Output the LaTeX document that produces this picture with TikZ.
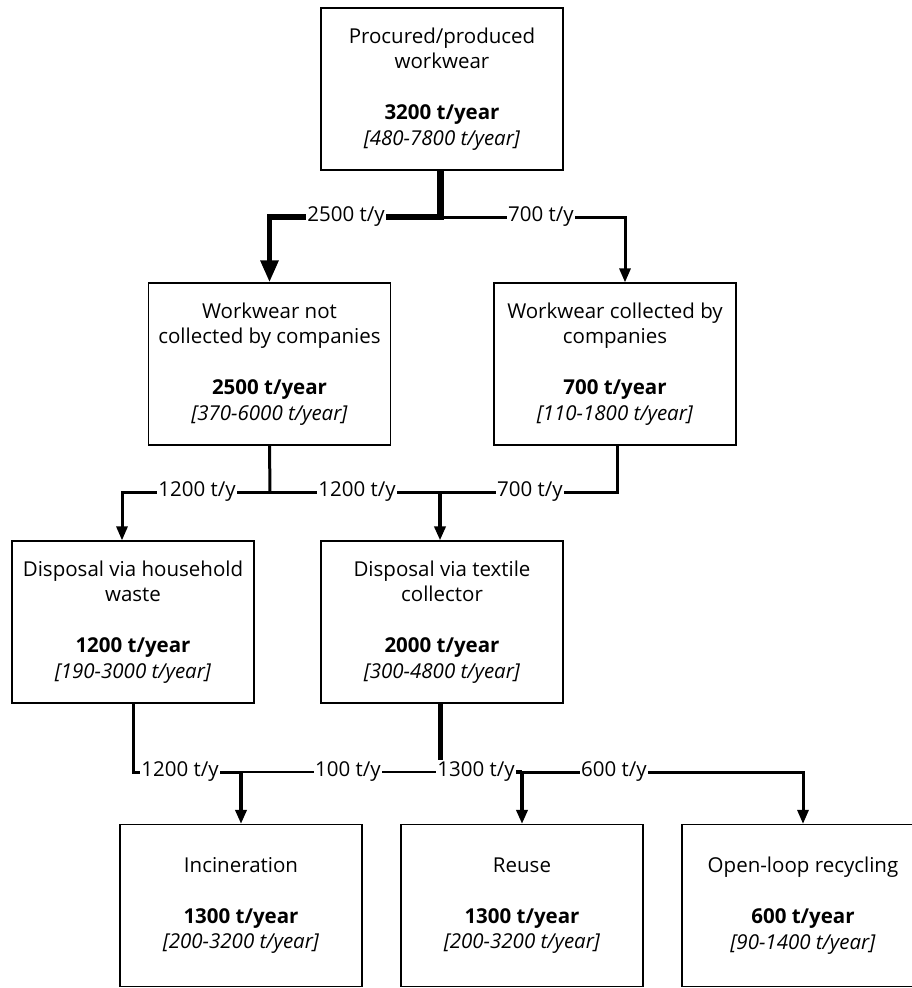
\documentclass[tikz,border=0pt]{standalone}
\usepackage{fontspec}
\setmainfont{Open Sans}
\usetikzlibrary{arrows.meta,calc}
\tikzset{
  box/.style={draw, line width=1.2pt, minimum width=242pt, minimum height=162pt,
    align=center, inner sep=0pt, font=\fontsize{20.5}{25.5}\selectfont},
  lbl/.style={fill=white, inner xsep=1pt, inner ysep=2pt, font=\fontsize{20.5}{22}\selectfont},
  tip/.style={-{Triangle[length=14pt,width=11pt]}},
  bigtip/.style={-{Triangle[length=22pt,width=17pt]}},
}
\begin{document}
\begin{tikzpicture}[x=1pt,y=-1pt]
\useasboundingbox (0,0) rectangle (912,988);
\clip (0,0) rectangle (912,988);
% boxes
\node[box] (A) at (442,89) {Procured/produced\\workwear\\[25.5pt]\textbf{3200 t/year}\\\textit{[480-7800 t/year]}};
\node[box] (B) at (269.5,364) {Workwear not\\collected by companies\\[25.5pt]\textbf{2500 t/year}\\\textit{[370-6000 t/year]}};
\node[box] (C) at (615,364) {Workwear collected by\\companies\\[25.5pt]\textbf{700 t/year}\\\textit{[110-1800 t/year]}};
\node[box] (D) at (133,622) {Disposal via household\\waste\\[25.5pt]\textbf{1200 t/year}\\\textit{[190-3000 t/year]}};
\node[box] (E) at (442,622) {Disposal via textile\\collector\\[25.5pt]\textbf{2000 t/year}\\\textit{[300-4800 t/year]}};
\node[box] (F) at (241,905.5) {Incineration\\[25.5pt]\textbf{1300 t/year}\\\textit{[200-3200 t/year]}};
\node[box] (G) at (522,905.5) {Reuse\\[25.5pt]\textbf{1300 t/year}\\\textit{[200-3200 t/year]}};
\node[box] (H) at (803,905.5) {Open-loop recycling\\[25.5pt]\textbf{600 t/year}\\\textit{[90-1400 t/year]}};
% junctions
\coordinate (j1) at (440,217);
\coordinate (j2) at (270,492);
\coordinate (j3) at (440,492);
\coordinate (j4) at (241,772);
\coordinate (j5) at (440,772);
\coordinate (j6) at (522,772);
% top flows
\draw[line width=7pt] (A.south -| j1) -- ($(j1)+(0,2.75)$);
\draw[line width=5.5pt, bigtip] (j1) -| (B.north);
\draw[line width=3pt, tip] (j1) -| ([xshift=10pt]C.north);
% middle flows
\draw[line width=3pt] (B.south) -- (j2);
\draw[line width=3pt, tip] (j2) -| ([xshift=-11pt]D.north);
\draw[line width=3pt] (j2) -- (j3);
\draw[line width=3pt] ([xshift=2pt]C.south) |- (j3);
\draw[line width=3.5pt, tip] (j3) -- (E.north -| j3);
% bottom flows
\draw[line width=3pt] (D.south) |- (j4);
\draw[line width=4pt, tip] (j4) -- (F.north);
\draw[line width=1.2pt] (j4) -- (j5);
\draw[line width=5pt] (E.south -| j5) -- (j5);
\draw[line width=4pt] (j5) -- (j6);
\draw[line width=4pt, tip] (j6) -- (G.north);
\draw[line width=3pt, tip] (j6) -| (H.north);
% labels
\node[lbl] (l1) at (346,217) {2500 t/y};
\node[lbl] (l2) at (541,217) {700 t/y};
\node[lbl] (l3) at (197,492) {1200 t/y};
\node[lbl] (l4) at (357,492) {1200 t/y};
\node[lbl] (l5) at (530,492) {700 t/y};
\node[lbl] (l6) at (180,772) {1200 t/y};
\node[lbl] (l7) at (348,772) {100 t/y};
\node[lbl] (l8) at (476,772) {1300 t/y};
\node[lbl] (l9) at (614,772) {600 t/y};
\end{tikzpicture}
\end{document}
